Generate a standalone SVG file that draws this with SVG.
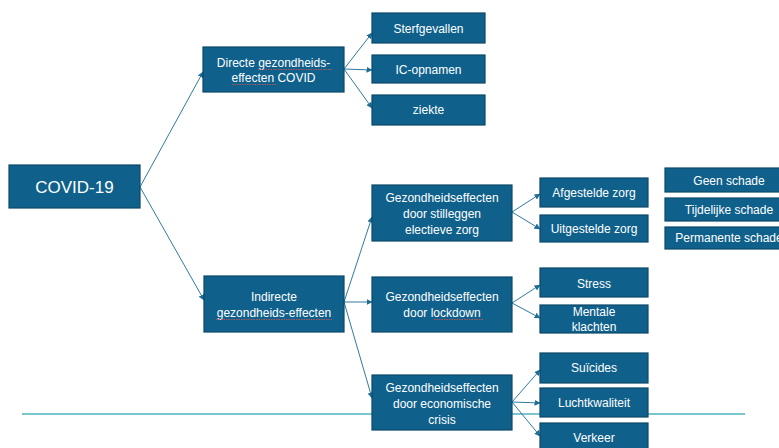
<svg xmlns="http://www.w3.org/2000/svg" width="779" height="448" viewBox="0 0 779 448">
<style>
.box{fill:#0f618c;stroke:#0b4768;stroke-width:1.2}
.t{font-family:"Liberation Sans",Arial,sans-serif;font-size:12px;fill:#ffffff;text-anchor:middle}
.big{font-size:17px}
.c{fill:none;stroke:#2f7ba3;stroke-width:1}
.sp{fill:none;stroke:#d9534f;stroke-width:0.8;stroke-dasharray:1.5 1}
</style>
<defs>
<marker id="ah" viewBox="0 0 6 6" refX="5.5" refY="3" markerWidth="6" markerHeight="6" markerUnits="userSpaceOnUse" orient="auto">
<path d="M0,0 L6,3 L0,6 z" fill="#1f6c95"/>
</marker>
</defs>
<rect width="779" height="448" fill="#ffffff"/>
<line x1="22" y1="414" x2="745" y2="414" stroke="#4fb3bd" stroke-width="1.5"/>
<g id="connectors">
<path class="c" d="M140,187 L203,72" marker-end="url(#ah)"/>
<path class="c" d="M140,187 L204,300" marker-end="url(#ah)"/>
<path class="c" d="M344,69 L372,33" marker-end="url(#ah)"/>
<path class="c" d="M344,69 L372,70" marker-end="url(#ah)"/>
<path class="c" d="M344,69 L372,108" marker-end="url(#ah)"/>
<path class="c" d="M344,302 L372,217" marker-end="url(#ah)"/>
<path class="c" d="M344,302 L372,302" marker-end="url(#ah)"/>
<path class="c" d="M344,302 L372,398" marker-end="url(#ah)"/>
<path class="c" d="M512,212 L540,194" marker-end="url(#ah)"/>
<path class="c" d="M512,212 L540,229" marker-end="url(#ah)"/>
<path class="c" d="M512,303 L540,285" marker-end="url(#ah)"/>
<path class="c" d="M512,303 L540,318" marker-end="url(#ah)"/>
<path class="c" d="M512,402 L540,370" marker-end="url(#ah)"/>
<path class="c" d="M512,402 L540,403" marker-end="url(#ah)"/>
<path class="c" d="M512,402 L540,436" marker-end="url(#ah)"/>
</g>
<g id="covid"><rect class="box" x="9" y="165" width="131" height="43"/><text class="t big" x="74.5" y="193">COVID-19</text></g>
<g id="directe"><rect class="box" x="203" y="47" width="141" height="45"/><text class="t" x="273.5" y="67">Directe gezondheids-</text><text class="t" x="273.5" y="82">effecten COVID</text>
<path class="sp" d="M258,69.5 H333 M232,84.5 H277"/></g>
<g id="sterf"><rect class="box" x="372" y="13" width="113" height="30"/><text class="t" x="428.5" y="33">Sterfgevallen</text></g>
<g id="ic"><rect class="box" x="372" y="55" width="113" height="28"/><text class="t" x="428.5" y="74">IC-opnamen</text></g>
<g id="ziekte"><rect class="box" x="372" y="95" width="113" height="30"/><text class="t" x="428.5" y="114">ziekte</text></g>
<g id="indirecte"><rect class="box" x="204" y="276" width="140" height="56"/><text class="t" x="274" y="301">Indirecte</text><text class="t" x="274" y="317">gezondheids-effecten</text>
<path class="sp" d="M216,319.5 H332"/></g>
<g id="stilleggen"><rect class="box" x="372" y="185" width="140" height="56"/><text class="t" x="442" y="202">Gezondheidseffecten</text><text class="t" x="442" y="218">door stilleggen</text><text class="t" x="442" y="234">electieve zorg</text></g>
<g id="lockdown"><rect class="box" x="372" y="277" width="140" height="55"/><text class="t" x="442" y="301">Gezondheidseffecten</text><text class="t" x="442" y="317">door lockdown</text>
<path class="sp" d="M434,319.5 H483"/></g>
<g id="economisch"><rect class="box" x="372" y="375" width="140" height="55"/><text class="t" x="442" y="392">Gezondheidseffecten</text><text class="t" x="442" y="408">door economische</text><text class="t" x="442" y="424">crisis</text></g>
<g id="afgestelde"><rect class="box" x="540" y="178" width="108" height="29"/><text class="t" x="594" y="197">Afgestelde zorg</text></g>
<g id="uitgestelde"><rect class="box" x="540" y="215" width="108" height="27"/><text class="t" x="594" y="233">Uitgestelde zorg</text></g>
<g id="stress"><rect class="box" x="540" y="268" width="108" height="29"/><text class="t" x="594" y="288">Stress</text></g>
<g id="mentale"><rect class="box" x="540" y="305" width="108" height="28"/><text class="t" x="594" y="316">Mentale</text><text class="t" x="594" y="331">klachten</text></g>
<g id="suicides"><rect class="box" x="540" y="353" width="108" height="30"/><text class="t" x="594" y="372">Suïcides</text></g>
<g id="lucht"><rect class="box" x="540" y="388" width="108" height="29"/><text class="t" x="594" y="407">Luchtkwaliteit</text></g>
<g id="verkeer"><rect class="box" x="540" y="423" width="108" height="30"/><text class="t" x="594" y="442">Verkeer</text></g>
<g id="geen"><rect class="box" x="665" y="168" width="128" height="24"/><text class="t" x="729" y="185">Geen schade</text></g>
<g id="tijdelijk"><rect class="box" x="665" y="198" width="128" height="23"/><text class="t" x="729" y="214">Tijdelijke schade</text></g>
<g id="permanent"><rect class="box" x="665" y="227" width="128" height="22"/><text class="t" x="729" y="242">Permanente schade</text></g>
</svg>
